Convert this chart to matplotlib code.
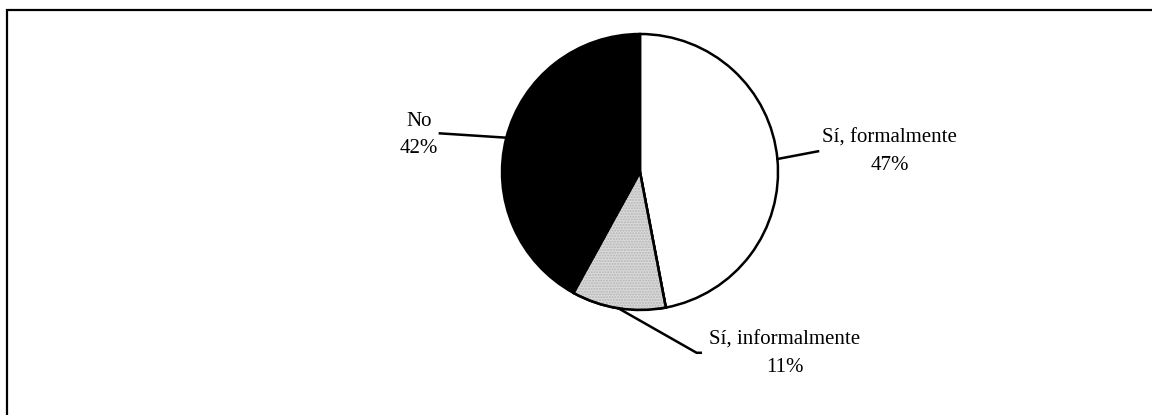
import numpy as np
import matplotlib
matplotlib.use("Agg")
import matplotlib.pyplot as plt
from matplotlib.patches import Rectangle, Wedge

labels = ["Sí, formalmente", "Sí, informalmente", "No"]
values = [47, 11, 42]
colors = ["white", "#dadada", "black"]

# label text positions (axes data units, pie radius = 1)
text_pos = [(1.81, 0.15), (1.05, -1.32), (-1.6, 0.27)]
# where the leader line ends near the text
line_end = [(1.29, 0.15), (0.41, -1.31), (-1.45, 0.28)]

W, H = 1152, 415
fig = plt.figure(figsize=(W / 100, H / 100), dpi=100)
plt.rcParams["font.family"] = ["Liberation Serif", "DejaVu Serif"]

# frame round the chart (runs off the right and bottom edges)
fig.patches.append(Rectangle((7 / W, -0.05), 1.2, (H - 10) / H + 0.05,
                             transform=fig.transFigure, fill=False,
                             edgecolor="black", lw=1.6))

cx, cy, r = 640, 172, 138
ax = fig.add_axes([(cx - r) / W, (H - cy - r) / H, 2 * r / W, 2 * r / H])
wedges, _ = ax.pie(values, colors=colors, startangle=90, counterclock=False,
                   wedgeprops=dict(edgecolor="black", linewidth=1.8))

# dotted texture on the grey slice
g = wedges[1]
ax.add_patch(Wedge(g.center, g.r, g.theta1, g.theta2, facecolor="none",
                   edgecolor="#b4b4b4", hatch="......", lw=0))
ax.add_patch(Wedge(g.center, g.r, g.theta1, g.theta2, facecolor="none",
                   edgecolor="black", lw=1.8))

ax.set_xlim(-1, 1)
ax.set_ylim(-1, 1)
ax.set_aspect("equal")
ax.axis("off")

for w, lab, v, tp, le in zip(wedges, labels, values, text_pos, line_end):
    ang = np.deg2rad((w.theta1 + w.theta2) / 2)
    x0, y0 = np.cos(ang), np.sin(ang)
    if lab == "Sí, informalmente":
        xs, ys = [x0, le[0], le[0] + 0.03], [y0, le[1], le[1]]
    else:
        xs, ys = [x0, le[0]], [y0, le[1]]
    ax.plot(xs, ys, color="black", lw=1.8, clip_on=False)
    ax.text(tp[0], tp[1], f"{lab}\n{v}%", ha="center", va="center",
            fontsize=15, linespacing=1.6)

fig.savefig("out.png", dpi=100)
